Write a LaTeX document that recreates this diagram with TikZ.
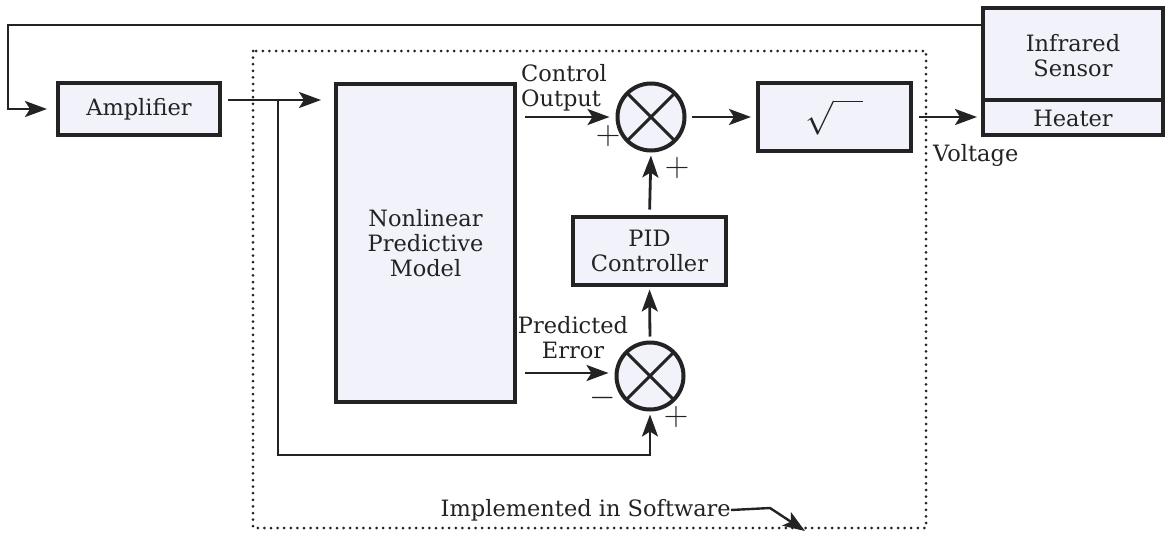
\RequirePackage{fix-cm}
\documentclass[tikz,border=0pt]{standalone}
\usepackage{fontspec}
\setmainfont{DejaVu Serif}
\usetikzlibrary{arrows.meta,calc}
\definecolor{boxfill}{RGB}{242,243,250}
\definecolor{ink}{RGB}{35,35,35}
\begin{document}
\begin{tikzpicture}[x=1pt,y=-1pt, font=\fontsize{22.5}{25}\selectfont,
  blk/.style={draw=ink, line width=4pt, fill=boxfill, align=center, inner sep=0pt, text=ink},
  sumnode/.style={circle, draw=ink, line width=4pt, fill=boxfill, minimum size=67pt, inner sep=0pt,
    path picture={\draw[ink,line width=3pt] (path picture bounding box.north west)--(path picture bounding box.south east)
      (path picture bounding box.north east)--(path picture bounding box.south west);}},
  arr/.style={draw=ink, line width=2.8pt, -{Stealth[length=22pt,width=16pt,inset=5pt]}},
  lbl/.style={text=ink, inner sep=0pt},
  sign/.style={text=ink, inner sep=0pt, font=\fontsize{34}{34}\selectfont}]
\useasboundingbox (0,0) rectangle (1166,533);

% dotted software frame
\draw[ink, line width=3pt, dash pattern=on 0pt off 6.6pt, line cap=round] (253,51) rectangle (926,528);

% blocks
\node[blk, minimum width=162pt, minimum height=52pt] (amp) at (139,109) {Amplifier};
\node[blk, minimum width=179pt, minimum height=318pt] (model) at (425.5,243) {Nonlinear\\Predictive\\Model};
\node[sumnode] (s1) at (651,117) {};
\node[sumnode] (s2) at (650,376) {};
\node[blk, minimum width=153pt, minimum height=68pt] (pid) at (649.5,250.5) {PID\\Controller};
\node[blk, minimum width=153pt, minimum height=68pt] (sq) at (834.5,117) {\fontsize{34}{34}\selectfont$\sqrt{\phantom{m}}$};
\node[blk, minimum width=180pt, minimum height=127pt] (unit) at (1073,71.5) {};
\draw[ink, line width=4pt] (983,100) -- (1163,100);
\node[lbl, align=center] (sensor) at (1073,56) {Infrared\\Sensor};
\node[lbl] (heater) at (1073,118) {Heater};

% feedback from sensor to amplifier
\coordinate (c1) at (8,25);
\draw[arr, shorten >=9pt] (unit.west |- c1) -- (c1) |- (amp.west);

% amplifier to model, with branch
\coordinate (j1) at (278,100);
\coordinate (j2) at (278,455);
\draw[arr, shorten <=6pt, shorten >=13pt] (amp.east |- j1) -- (model.west |- j1);
\draw[arr, shorten >=3pt] (j1) -- (j2) -| (s2.south);

% model outputs
\draw[arr, shorten <=8pt, shorten >=6pt] (model.east |- s1) -- (s1.west);
\draw[arr, shorten <=8pt, shorten >=6pt] ($(model.east |- s2)+(0,-3)$) -- ($(s2.west)+(0,-3)$);

% loop
\draw[arr, shorten <=4pt, shorten >=3pt] (s2.north) -- (pid.south);
\draw[arr, shorten <=5pt, shorten >=3pt] (pid.north) -- (s1.south);
\draw[arr, shorten <=5pt, shorten >=5pt] (s1.east) -- (sq.west);
\draw[arr, shorten <=6pt, shorten >=4pt] (sq.east) -- (sq.east -| unit.west);

% labels
\node[lbl, align=left] (co) at (564,88) {Control\\Output};
\node[lbl, align=center] (pe) at (573,338) {Predicted\\Error};
\node[sign] (p1) at (608,136) {$+$};
\node[sign] (p2) at (677,168) {$+$};
\node[sign] (m1) at (603,398) {$-$};
\node[sign] (p3) at (676,417) {$+$};
\node[lbl, anchor=west] (volt) at (933,155) {Voltage};
\node[lbl, anchor=east] (sw) at (731,510) {Implemented in Software};
\coordinate (swk) at (770,508);
\coordinate (swtip) at (805,531);
\draw[draw=ink, line width=2.4pt, -{Stealth[length=22pt,width=16pt,inset=5pt]}] (sw.east) -- (swk) -- (swtip);
\end{tikzpicture}
\end{document}
